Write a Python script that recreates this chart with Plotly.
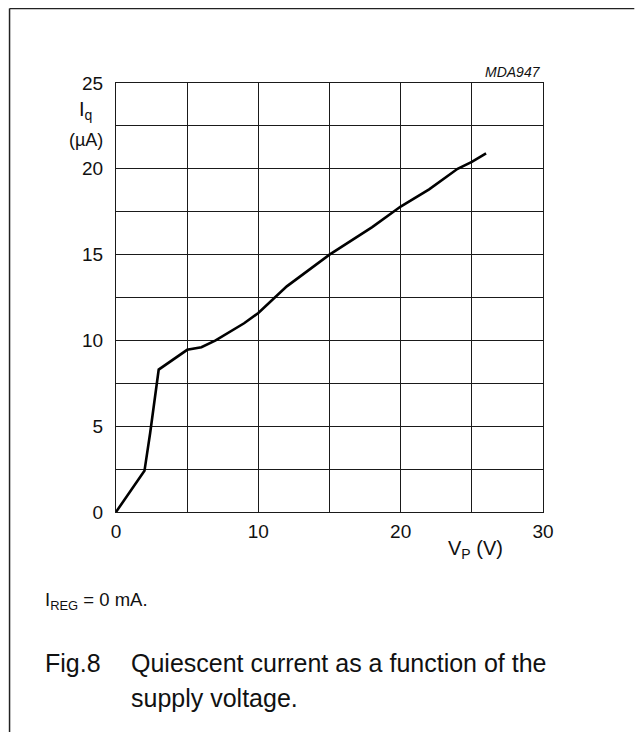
import plotly.graph_objects as go

# Data
vp = [0, 2, 2.4, 3, 5, 6, 7, 9, 10, 11.2, 12, 15, 18, 20, 22, 24, 25, 26]
iq = [0, 2.4, 4.6, 8.3, 9.45, 9.6, 10.0, 11.0, 11.6, 12.5, 13.15, 15.0, 16.6, 17.8, 18.8, 20.0, 20.4, 20.9]

x_ticks = [0, 5, 10, 15, 20, 25, 30]
x_labels = ["0", "", "10", "", "20", "", "30"]
y_ticks = [0, 2.5, 5, 7.5, 10, 12.5, 15, 17.5, 20, 22.5, 25]
y_labels = ["0", "", "5", "", "10", "", "15", "", "20", "", "25"]

OFF = 8  # page body margin
W, H = 643 - 2 * OFF, 740 - 2 * OFF  # keep the page within the window (no scrollbars)
L, T, R, B = 115.5 - OFF, 83.3 - OFF, 543.5 - OFF, 512.0 - OFF
FONT = "Arial, Liberation Sans, sans-serif"


def px(xp):
    return (xp - OFF - L) / (R - L)


def py(yp):
    return (B - (yp - OFF)) / (B - T)


fig = go.Figure()
fig.add_trace(go.Scatter(x=vp, y=iq, mode="lines",
                         line=dict(color="black", width=2.6),
                         showlegend=False, hoverinfo="skip"))

axis_common = dict(showgrid=True, gridcolor="#1a1a1a", gridwidth=1,
                   showline=True, linecolor="#1a1a1a", linewidth=1, mirror=True,
                   zeroline=False,
                   tickfont=dict(family=FONT, size=19, color="#111"))

fig.update_layout(
    width=W, height=H,
    margin=dict(l=L, r=W - R, t=T, b=H - B, autoexpand=False),
    paper_bgcolor="white", plot_bgcolor="white",
    xaxis=dict(range=[0, 30], tickvals=x_ticks, ticktext=x_labels,
               ticks="outside", ticklen=2, tickcolor="rgba(0,0,0,0)", **axis_common),
    yaxis=dict(range=[0, 25], tickvals=y_ticks, ticktext=y_labels,
               ticks="outside", ticklen=8, tickcolor="rgba(0,0,0,0)", **axis_common),
)

ann = []


def text(xp, yp, s, size, xanchor="left", yanchor="middle", italic=False):
    ann.append(dict(x=px(xp), y=py(yp), xref="paper", yref="paper", text=s,
                    showarrow=False, xanchor=xanchor, yanchor=yanchor,
                    font=dict(family=FONT, size=size, color="#111",
                              style="italic" if italic else "normal")))


text(544, 72, "MDA947", 14, xanchor="right", italic=True)
text(76, 111, "I<sub>q</sub>", 20)
text(85, 140, "(µA)", 18, xanchor="center")
text(476, 549, "V<sub>P</sub> (V)", 20, xanchor="center")
text(42, 601, "I<sub>REG</sub> = 0 mA.", 18.5)
text(42, 663, "Fig.8", 25)
text(129, 663, "Quiescent current as a function of the", 25)
text(129, 698, "supply voltage.", 25)
fig.update_layout(annotations=ann)

# partial outer frame (left and top edges), as close to the page corner as possible
FX = OFF + 0.8
fig.add_shape(type="line", xref="paper", yref="paper",
              x0=px(FX), y0=py(OFF + H), x1=px(FX), y1=py(FX),
              line=dict(color="#222", width=1.5))
fig.add_shape(type="line", xref="paper", yref="paper",
              x0=px(FX), y0=py(FX), x1=px(OFF + W), y1=py(FX),
              line=dict(color="#222", width=1.5))

fig.write_html("out.html")
